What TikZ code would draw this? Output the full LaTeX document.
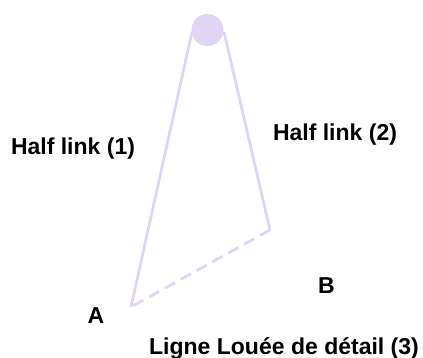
\documentclass[tikz,border=0pt]{standalone}
\usepackage{fontspec}
\setmainfont{Liberation Sans}
\definecolor{lav}{RGB}{225,213,246}
\tikzset{x=1pt,y=-1pt,
 lbl/.style={font=\fontsize{23}{26}\selectfont\bfseries,text=black,inner sep=0pt,anchor=center},
 link/.style={draw=lav,line width=2.8pt}}
\begin{document}
\begin{tikzpicture}
\useasboundingbox (0,0) rectangle (423,358);
\coordinate (A) at (131,307);
\coordinate (B) at (270,230);
\coordinate (T1) at (192,32);
\coordinate (T2) at (224,32);
\node[circle,fill=lav,minimum size=32pt,inner sep=0pt] (pulley) at (207.5,30) {};
\draw[link] (T1) -- (A);
\draw[link] (T2) -- (B);
\draw[link,dash pattern=on 11.5pt off 6.6pt] (B) -- (A);
\node[lbl] (h1) at (73,148.5) {Half link (1)};
\node[lbl] (h2) at (335,134.5) {Half link (2)};
\node[lbl] (a) at (96,315.5) {A};
\node[lbl] (b) at (326.5,285.5) {B};
\node[lbl] (l) at (284,348.5) {Ligne Louée de détail (3)};
\end{tikzpicture}
\end{document}
